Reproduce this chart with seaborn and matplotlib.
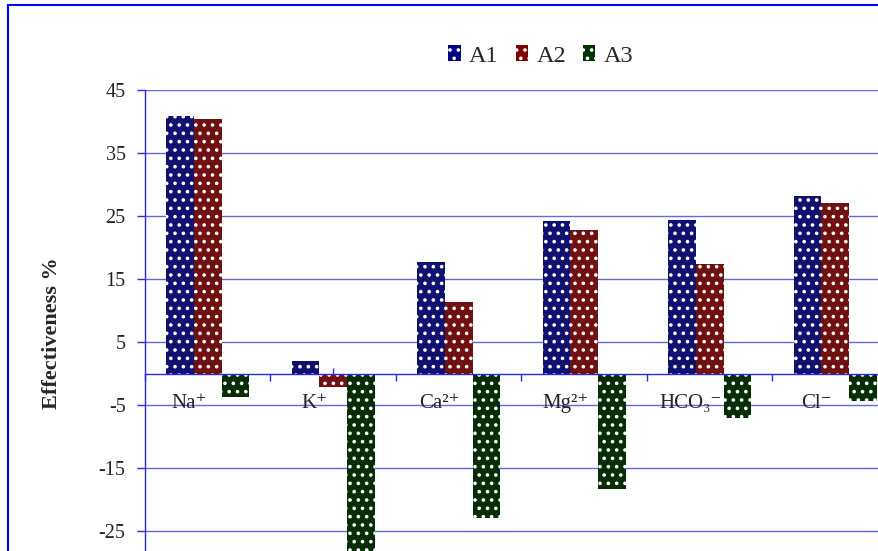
import matplotlib
matplotlib.use("Agg")
import matplotlib.pyplot as plt
from matplotlib.patches import Patch, Rectangle
import seaborn as sns
import pandas as pd

# Ions on the x axis and effectiveness (%) for each treatment
ions = ["Na⁺", "K⁺", "Ca²⁺", "Mg²⁺", "HCO₃⁻", "Cl⁻"]
series = ["A1", "A2", "A3"]
a1 = [40.9, 2.0, 17.7, 24.2, 24.3, 28.1]
a2 = [40.4, -2.1, 11.3, 22.8, 17.4, 27.1]
a3 = [-3.7, -30.0, -23.0, -18.4, -7.0, -4.4]
yticks = [-25, -15, -5, 5, 15, 25, 35, 45]

colors = {"A1": "#000080", "A2": "#800000", "A3": "#003300"}
blue = "#2a2ae6"
grid_blue = "#6565e0"

df = pd.DataFrame({
    "ion": ions * 3,
    "series": [s for s in series for _ in ions],
    "value": a1 + a2 + a3,
})

sns.set_style("white")
plt.rcParams["font.family"] = ["Liberation Serif", "DejaVu Serif"]
plt.rcParams["hatch.linewidth"] = 1.4

fig = plt.figure(figsize=(8.79, 5.51), dpi=100)
ax = fig.add_axes([145 / 879, (551 - 594) / 551, 753 / 879, 504 / 551])

sns.barplot(data=df, x="ion", y="value", hue="series", order=ions,
            hue_order=series, palette=colors, width=0.66, errorbar=None,
            edgecolor="white", linewidth=0, hatch="..", legend=False, ax=ax)

ax.set_xlim(-0.5, len(ions) - 0.5)
ax.set_ylim(-35, 45)
ax.set_yticks(yticks)
ax.set_yticklabels([str(t) for t in yticks])
ax.set_axisbelow(True)
ax.yaxis.grid(True, color=grid_blue, linewidth=1.0)
ax.xaxis.grid(False)

# x axis sits on the zero line: outward ticks between groups, small inward ticks at centres
ax.spines["bottom"].set_position(("data", 0))
ax.spines["bottom"].set_color(blue)
ax.spines["bottom"].set_linewidth(1.0)
ax.spines["left"].set_color(blue)
ax.spines["left"].set_linewidth(1.0)
ax.spines["top"].set_visible(False)
ax.spines["right"].set_visible(False)
ax.set_xticks([i - 0.5 for i in range(len(ions) + 1)])
ax.set_xticklabels([])
ax.set_xticks(range(len(ions)), minor=True)
ax.tick_params(axis="x", which="major", direction="out", length=5, width=1,
               color=blue, bottom=True)
ax.tick_params(axis="x", which="minor", direction="in", length=4, width=1,
               color=blue, bottom=True)
ax.tick_params(axis="y", direction="out", length=6, width=1, color=blue,
               left=True, labelsize=14.5, pad=8)
ax.set_xlabel("")

for i, name in enumerate(ions):
    ax.text(i - 0.15, -4.8, name, ha="center", va="center", fontsize=15)

ax.set_ylabel("Effectiveness %", fontsize=16, fontweight="bold")
ax.yaxis.set_label_coords(-0.11, 0.518)

# legend along the top
handles = [Patch(facecolor=colors[s], edgecolor="white", linewidth=0,
                 hatch="..") for s in series]
fig.legend(handles, series, loc="center", ncol=3,
           bbox_to_anchor=(541 / 879, 1 - 56 / 551), frameon=False,
           fontsize=17.5, handlelength=0.5, handleheight=0.6,
           handletextpad=0.35, columnspacing=0.7)

# chart-area border
fig.patches.append(Rectangle((8 / 879, -0.2), 1.5, 1.2 - 5 / 551,
                             transform=fig.transFigure, fill=False,
                             edgecolor="#0000ff", linewidth=1.5,
                             clip_on=False))

fig.savefig("out.png", dpi=100)
